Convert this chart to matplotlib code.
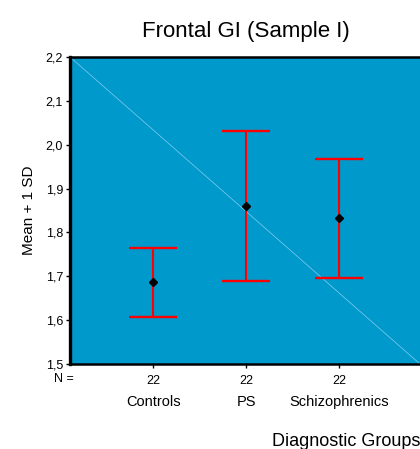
import matplotlib
matplotlib.use("Agg")
import matplotlib.pyplot as plt
import numpy as np

plt.rcParams['font.family'] = ['Liberation Sans', 'DejaVu Sans']

# data
groups = ['Controls', 'PS', 'Schizophrenics']
n_per_group = [22, 22, 22]
means = [1.686, 1.860, 1.832]
sds = [0.078, 0.171, 0.136]
y_ticks = [1.5, 1.6, 1.7, 1.8, 1.9, 2.0, 2.1, 2.2]

fig = plt.figure(figsize=(4.2, 4.49), dpi=100)
ax = fig.add_axes([70 / 420, 85 / 449, 350 / 420, 307 / 449])
ax.set_facecolor('#0099cc')

x = np.arange(1, len(groups) + 1)

# decorative diagonal across the plot area
ax.plot([0, 1], [1, 0], transform=ax.transAxes, color='#86cfec', lw=0.5, zorder=1)

ax.errorbar(x, means, yerr=sds, fmt='none', ecolor='#ff0000', elinewidth=1.5,
            capsize=17, capthick=1.7, zorder=2)
ax.plot(x, means, linestyle='none', marker='D', color='black', markersize=4, zorder=3)

ax.set_xlim(0.105, 3.87)
ax.set_ylim(1.5, 2.2)
ax.set_yticks(y_ticks)
ax.set_yticklabels([('%.1f' % v).replace('.', ',') for v in y_ticks], fontsize=9)
ax.set_xticks(x)
ax.set_xticklabels(['%d' % n for n in n_per_group], fontsize=9)
ax.tick_params(axis='y', length=3, width=1, pad=2)
ax.tick_params(axis='x', length=3, width=1, pad=5)

for side in ['left', 'bottom', 'top']:
    ax.spines[side].set_linewidth(1.8)
ax.spines['left'].set_linewidth(2.4)
ax.spines['right'].set_visible(False)

ax.set_ylabel('Mean + 1 SD', fontsize=11, labelpad=7)

# N = row label and group names under the counts
ax.text(-0.045, -0.048, 'N =', transform=ax.transAxes, ha='left', va='center', fontsize=9)
for xi, g in zip(x, groups):
    ax.annotate(g, xy=(xi, 0), xycoords=('data', 'axes fraction'), xytext=(0, -38),
                textcoords='offset pixels', ha='center', va='center', fontsize=10.5)

fig.text(272 / 420, 1 - 441 / 449, 'Diagnostic Groups', ha='left', va='center', fontsize=13)
fig.text(246 / 420, 1 - 32 / 449, 'Frontal GI (Sample I)', ha='center', va='center', fontsize=16)

fig.savefig('out.png', dpi=100)
